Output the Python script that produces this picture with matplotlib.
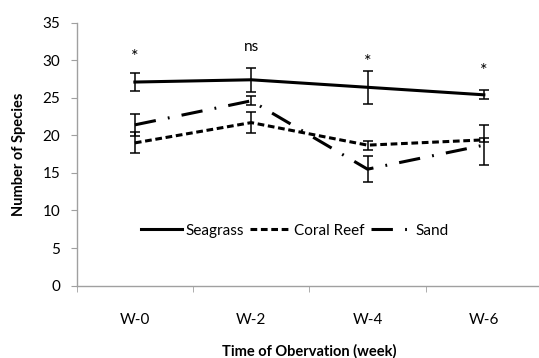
import matplotlib
matplotlib.use('Agg')
import matplotlib.pyplot as plt
from matplotlib.lines import Line2D
import numpy as np

plt.rcParams['font.family'] = ['Lato', 'DejaVu Sans']

weeks = ['W-0', 'W-2', 'W-4', 'W-6']
seagrass = [27.1, 27.4, 26.4, 25.4]
seagrass_err = [1.2, 1.6, 2.2, 0.6]
coral = [19.0, 21.7, 18.7, 19.4]
coral_err = [1.4, 1.4, 0.6, 0.3]
sand = [21.4, 24.6, 15.5, 18.7]
sand_err = [1.5, 0.6, 1.7, 2.65]
sig_labels = ['*', 'ns', '*', '*']
sig_y = [30.4, 31.7, 29.8, 28.6]

fig = plt.figure(figsize=(5.39, 3.58), dpi=100)
ax = fig.add_axes([0.1423, 0.2022, 0.8633, 0.7344])
x = np.arange(len(weeks))

lw = 2.2
styles = {'Seagrass': '-', 'Coral Reef': (0, (2.2, 1.2)), 'Sand': (0, (7, 4, 0.6, 4))}
err_kw = dict(ecolor='black', elinewidth=1.1, capsize=3.5, capthick=1.1)
ax.errorbar(x, seagrass, yerr=seagrass_err, color='black', lw=lw,
            linestyle=styles['Seagrass'], **err_kw)
ax.errorbar(x, coral, yerr=coral_err, color='black', lw=lw,
            linestyle=styles['Coral Reef'], **err_kw)
ax.errorbar(x, sand, yerr=sand_err, color='black', lw=lw,
            linestyle=styles['Sand'], **err_kw)

for xi, lab, yi in zip(x, sig_labels, sig_y):
    ax.text(xi, yi, lab, ha='center', va='center', fontsize=13 if lab == '*' else 11)

ax.set_xlim(-0.5, 3.5)
ax.set_ylim(0, 35)
ax.set_yticks(range(0, 36, 5))
ax.set_xticks(x)
ax.set_xticklabels(weeks)
ax.set_xticks(np.arange(-0.5, 4.0, 1.0), minor=True)
ax.tick_params(axis='x', which='major', length=0, pad=20, labelsize=11)
ax.tick_params(axis='x', which='minor', length=4, color='#a0a0a0', direction='out')
ax.tick_params(axis='y', length=4, color='#a0a0a0', pad=8, labelsize=11)

for side in ['top', 'right']:
    ax.spines[side].set_visible(False)
for side in ['left', 'bottom']:
    ax.spines[side].set_color('#a0a0a0')
    ax.spines[side].set_linewidth(1.0)

ax.set_xlabel('Time of Obervation (week)', fontweight='bold', fontsize=10.5, labelpad=12)
ax.set_ylabel('Number of Species', fontweight='bold', fontsize=10.5, labelpad=12)

handles = [Line2D([0], [0], color='black', lw=lw, linestyle=s) for s in styles.values()]
ax.legend(handles, list(styles.keys()), loc='center', bbox_to_anchor=(0.469, 0.209),
          ncol=3, frameon=False, handlelength=2.7, handletextpad=0.2,
          columnspacing=0.4, fontsize=11)

fig.savefig('out.png', dpi=100)
